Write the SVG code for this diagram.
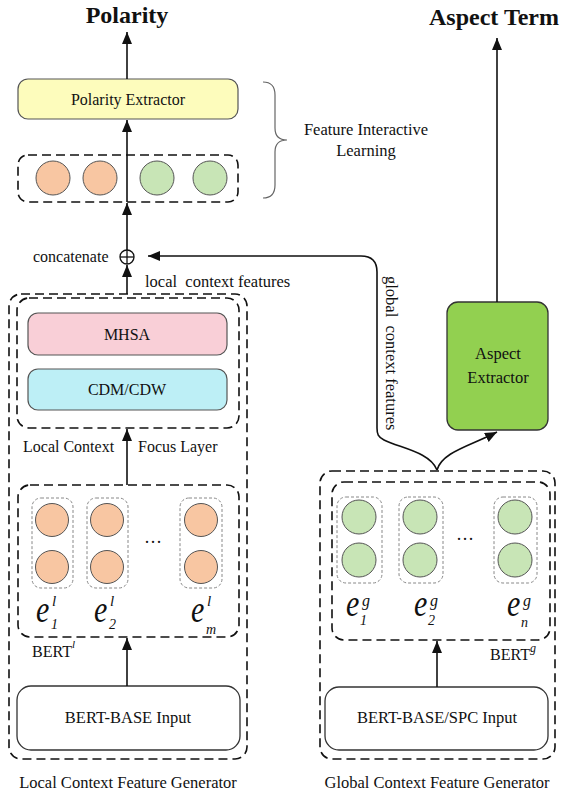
<svg xmlns="http://www.w3.org/2000/svg" width="565" height="794" viewBox="0 0 565 794">
<style>
text{font-family:"Liberation Serif","Times New Roman",serif;fill:#111}
.t16{font-size:16px}
.title{font-size:24px;font-weight:bold}
.dash{fill:none;stroke:#111;stroke-width:1.6;stroke-dasharray:9,5}
.col{fill:none;stroke:#888;stroke-width:1;stroke-dasharray:3,2}
.or{fill:#f8c6a2;stroke:#555;stroke-width:1}
.gr{fill:#c8e5b6;stroke:#555;stroke-width:1}
.box{stroke:#555;stroke-width:1.2}
.ln{fill:none;stroke:#111;stroke-width:1.6}
.it{font-style:italic}
</style>
<defs>
<marker id="ah" viewBox="0 0 12 10" refX="12" refY="5" markerWidth="12" markerHeight="10" orient="auto" markerUnits="userSpaceOnUse"><path d="M0,0 L12,5 L0,10 z" fill="#111"/></marker>
</defs>

<g id="titles">
<text class="title" x="127" y="23" text-anchor="middle">Polarity</text>
<text class="title" x="494" y="25" text-anchor="middle">Aspect Term</text>
</g>

<g id="polarity-extractor">
<rect class="box" x="18" y="79" width="220" height="40" rx="10" fill="#fdfcbc"/>
<text class="t16" x="128" y="105" text-anchor="middle">Polarity Extractor</text>
</g>

<g id="feature-row">
<rect class="dash" x="18" y="155" width="220" height="47" rx="10"/>
<circle class="or" cx="53" cy="178" r="17"/>
<circle class="or" cx="100" cy="178" r="17"/>
<circle class="gr" cx="157" cy="178" r="17"/>
<circle class="gr" cx="210" cy="178" r="17"/>
</g>

<g id="brace">
<path d="M263,82 Q275,82 275,95 L275,128 Q275,140 287,140 Q275,140 275,152 L275,185 Q275,198 263,198" fill="none" stroke="#666" stroke-width="1.2"/>
<text class="t16" x="366" y="135" text-anchor="middle" style="font-size:16.5px">Feature Interactive</text>
<text class="t16" x="366" y="156" text-anchor="middle" style="font-size:16.5px">Learning</text>
</g>

<g id="concat">
<text class="t16" x="33" y="262">concatenate</text>
<circle cx="127" cy="257" r="7" fill="none" stroke="#111" stroke-width="1.3"/>
<line x1="120" y1="257" x2="134" y2="257" stroke="#111" stroke-width="1.3"/>
<line x1="127" y1="250" x2="127" y2="264" stroke="#111" stroke-width="1.3"/>
</g>

<g id="local-generator">
<rect class="dash" x="9" y="294" width="238" height="465" rx="12"/>
<rect class="dash" x="17" y="298" width="222" height="130" rx="12"/>
<rect class="box" x="28" y="313" width="199" height="42" rx="10" fill="#f9cfd7"/>
<text class="t16" x="127" y="340" text-anchor="middle">MHSA</text>
<rect class="box" x="28" y="369" width="199" height="41" rx="10" fill="#bdeff6"/>
<text class="t16" x="127" y="395" text-anchor="middle">CDM/CDW</text>
<text class="t16" x="23" y="452">Local Context</text>
<text class="t16" x="138" y="452">Focus Layer</text>
<text class="t16" x="145" y="287" style="font-size:16.5px">local&#160; context features</text>
</g>

<g id="bert-local">
<rect class="dash" x="18" y="485" width="221" height="152" rx="12"/>
<rect class="col" x="32" y="498" width="41" height="90" rx="9"/>
<rect class="col" x="87" y="498" width="41" height="90" rx="9"/>
<rect class="col" x="180" y="498" width="42" height="90" rx="9"/>
<circle class="or" cx="52" cy="520" r="16.5"/>
<circle class="or" cx="52" cy="567" r="16.5"/>
<circle class="or" cx="107" cy="520" r="16.5"/>
<circle class="or" cx="107" cy="567" r="16.5"/>
<circle class="or" cx="201" cy="520" r="16.5"/>
<circle class="or" cx="201" cy="567" r="16.5"/>
<text class="t16" x="153" y="548" text-anchor="middle" style="font-size:18px">···</text>
<text class="it" transform="translate(36,622) scale(1,1.25)" style="font-size:30px">e</text>
<text class="it" x="52" y="606" style="font-size:15px">l</text>
<text class="it" x="51" y="629" style="font-size:14px">1</text>
<text class="it" transform="translate(94,622) scale(1,1.25)" style="font-size:30px">e</text>
<text class="it" x="110" y="606" style="font-size:15px">l</text>
<text class="it" x="109" y="629" style="font-size:14px">2</text>
<text class="it" transform="translate(191,622) scale(1,1.25)" style="font-size:30px">e</text>
<text class="it" x="207" y="606" style="font-size:15px">l</text>
<text class="it" x="206" y="634" style="font-size:14px">m</text>
<text class="t16" x="32" y="657">BERT<tspan class="it" dy="-9" style="font-size:11px">l</tspan></text>
</g>

<g id="local-input">
<rect x="17" y="686" width="223" height="64" rx="14" fill="#fff" stroke="#333" stroke-width="1.3"/>
<text class="t16" x="128" y="723" text-anchor="middle" style="font-size:16.5px">BERT-BASE Input</text>
<text class="t16" x="128" y="788" text-anchor="middle" style="font-size:16.5px">Local Context Feature Generator</text>
</g>

<g id="aspect-extractor">
<rect x="447" y="302" width="101" height="128" rx="11" fill="#92d050" stroke="#333" stroke-width="1.3"/>
<text class="t16" x="498" y="359" text-anchor="middle" style="font-size:16.5px">Aspect</text>
<text class="t16" x="498" y="383" text-anchor="middle" style="font-size:16.5px">Extractor</text>
</g>

<g id="global-generator">
<rect class="dash" x="320" y="471" width="235" height="288" rx="12"/>
<rect class="dash" x="332" y="482" width="218" height="158" rx="12"/>
<rect class="col" x="337" y="497" width="45" height="86" rx="9"/>
<rect class="col" x="399" y="497" width="44" height="86" rx="9"/>
<rect class="col" x="494" y="497" width="43" height="86" rx="9"/>
<circle class="gr" cx="359" cy="517" r="17"/>
<circle class="gr" cx="359" cy="560" r="17"/>
<circle class="gr" cx="420" cy="517" r="17"/>
<circle class="gr" cx="420" cy="560" r="17"/>
<circle class="gr" cx="515" cy="517" r="17"/>
<circle class="gr" cx="515" cy="560" r="17"/>
<text class="t16" x="465" y="545" text-anchor="middle" style="font-size:18px">···</text>
<text class="it" transform="translate(346,616) scale(1,1.25)" style="font-size:30px">e</text>
<text class="it" x="362" y="606" style="font-size:16px">g</text>
<text class="it" x="360" y="625" style="font-size:14px">1</text>
<text class="it" transform="translate(414,616) scale(1,1.25)" style="font-size:30px">e</text>
<text class="it" x="430" y="606" style="font-size:16px">g</text>
<text class="it" x="428" y="625" style="font-size:14px">2</text>
<text class="it" transform="translate(507,616) scale(1,1.25)" style="font-size:30px">e</text>
<text class="it" x="523" y="606" style="font-size:16px">g</text>
<text class="it" x="521" y="627" style="font-size:14px">n</text>
<text class="t16" x="490" y="660">BERT<tspan class="it" dy="-8" style="font-size:12px">g</tspan></text>
</g>

<g id="global-input">
<rect x="325" y="687" width="223" height="63" rx="14" fill="#fff" stroke="#333" stroke-width="1.3"/>
<text class="t16" x="437" y="723" text-anchor="middle" style="font-size:16.5px">BERT-BASE/SPC Input</text>
<text class="t16" x="437" y="788" text-anchor="middle" style="font-size:16.5px">Global Context Feature Generator</text>
</g>

<g id="connectors">
<line class="ln" x1="127" y1="79" x2="127" y2="32" marker-end="url(#ah)"/>
<line class="ln" x1="127" y1="155" x2="127" y2="120" marker-end="url(#ah)"/>
<line class="ln" x1="127" y1="202" x2="127" y2="155"/>
<line class="ln" x1="127" y1="250" x2="127" y2="203" marker-end="url(#ah)"/>
<line class="ln" x1="127" y1="294" x2="127" y2="265" marker-end="url(#ah)"/>
<line class="ln" x1="127" y1="485" x2="127" y2="429" marker-end="url(#ah)"/>
<line class="ln" x1="127" y1="686" x2="127" y2="638" marker-end="url(#ah)"/>
<line class="ln" x1="437" y1="687" x2="437" y2="641" marker-end="url(#ah)"/>
<line class="ln" x1="497" y1="302" x2="497" y2="38" marker-end="url(#ah)"/>
<path class="ln" d="M437,470 C430,452 400,448 384,440 C378,437 377,434 377,428 L377,272 Q377,256 361,256 L148,256" marker-end="url(#ah)"/>
<path class="ln" d="M437,470 C442,452 470,446 497,432" marker-end="url(#ah)"/>
<text class="t16" transform="translate(386,276) rotate(90)" style="font-size:16.5px">global&#160; context features</text>
</g>
</svg>
